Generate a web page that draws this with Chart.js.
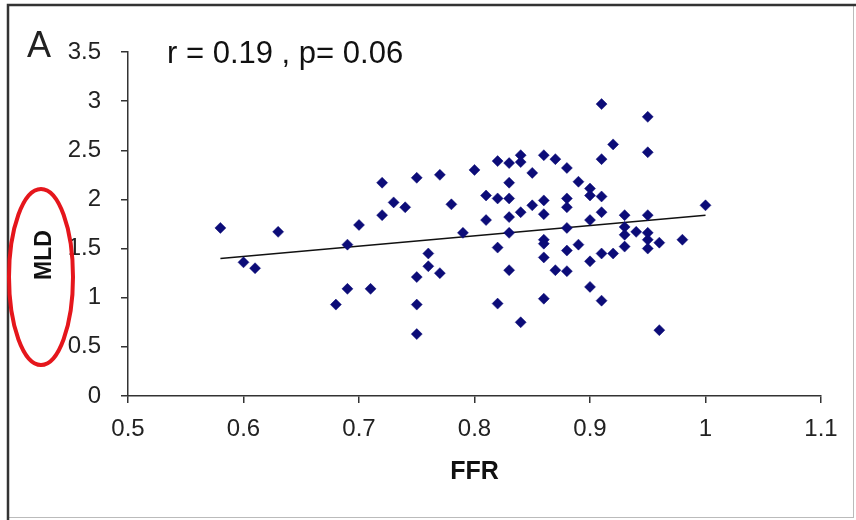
<!DOCTYPE html>
<html>
<head>
<meta charset="utf-8">
<script src="https://cdn.jsdelivr.net/npm/chart.js@4"></script>
<style>
  html, body { margin: 0; padding: 0; background: #fff; }
  #wrap { width: 856px; height: 520px; }
</style>
</head>
<body>
<div id="wrap"><canvas id="scatterChart"></canvas></div>
<script>
// FFR vs MLD per lesion
const ffr = [
    0.58, 0.60, 0.61, 0.63, 0.68, 0.69, 0.69, 0.70, 0.71, 0.72,
    0.72, 0.73, 0.74, 0.75, 0.75, 0.75, 0.75, 0.76, 0.76, 0.77,
    0.77, 0.78, 0.79, 0.80, 0.81, 0.81, 0.82, 0.82, 0.82, 0.82,
    0.83, 0.83, 0.83, 0.83, 0.83, 0.83, 0.84, 0.84, 0.84, 0.84,
    0.85, 0.85, 0.86, 0.86, 0.86, 0.86, 0.86, 0.86, 0.86, 0.87,
    0.87, 0.88, 0.88, 0.88, 0.88, 0.88, 0.88, 0.89, 0.89, 0.90,
    0.90, 0.90, 0.90, 0.90, 0.91, 0.91, 0.91, 0.91, 0.91, 0.91,
    0.92, 0.92, 0.93, 0.93, 0.93, 0.93, 0.94, 0.95, 0.95, 0.95,
    0.95, 0.95, 0.95, 0.96, 0.96, 0.98, 1.00
];
const mld = [
    1.71, 1.36, 1.30, 1.67, 0.93, 1.09, 1.54, 1.74, 1.09, 1.84,
    2.17, 1.97, 1.92, 2.22, 1.21, 0.93, 0.63, 1.45, 1.32, 2.25,
    1.25, 1.95, 1.66, 2.30, 2.04, 1.79, 2.39, 2.01, 1.51, 0.94,
    2.37, 2.17, 2.01, 1.82, 1.66, 1.28, 2.45, 2.38, 1.87, 0.75,
    2.27, 1.94, 2.45, 1.99, 1.85, 1.59, 1.55, 1.41, 0.99, 2.41,
    1.28, 2.32, 2.01, 1.92, 1.71, 1.48, 1.27, 2.18, 1.54, 2.11,
    2.04, 1.79, 1.37, 1.11, 2.97, 2.41, 2.03, 1.87, 1.45, 0.97,
    2.56, 1.45, 1.84, 1.72, 1.64, 1.52, 1.67, 2.84, 2.48, 1.84,
    1.66, 1.59, 1.50, 1.56, 0.67, 1.59, 1.94
];

// linear fit end points
const fitFfr = [0.58, 1.00];
const fitMld = [1.40, 1.84];

const yTicks = [0, 0.5, 1, 1.5, 2, 2.5, 3, 3.5];
const statsText = 'r = 0.19 , p= 0.06';

const tickFont = { family: '"Liberation Sans", Arial, sans-serif', size: 24 };

const decor = {
    id: 'decor',
    beforeDraw(chart) {
        const { ctx, width, height } = chart;
        ctx.save();
        ctx.fillStyle = '#fff';
        ctx.fillRect(0, 0, width, height);
        // frame
        ctx.strokeStyle = '#bbb';
        ctx.lineWidth = 1;
        ctx.strokeRect(8.5, 5.5, 845, 512);
        ctx.strokeStyle = '#333';
        ctx.lineWidth = 2.5;
        ctx.beginPath();
        ctx.moveTo(8, 520);
        ctx.lineTo(8, 5);
        ctx.lineTo(856, 5);
        ctx.stroke();
        ctx.restore();
    },
    afterDraw(chart) {
        const { ctx } = chart;
        ctx.save();
        ctx.fillStyle = '#222';
        ctx.textBaseline = 'alphabetic';
        ctx.textAlign = 'left';
        ctx.font = '36px "Liberation Sans", Arial, sans-serif';
        ctx.fillText('A', 27, 57);
        ctx.fillStyle = '#111';
        ctx.font = '31px "Liberation Sans", Arial, sans-serif';
        ctx.fillText(statsText, 167, 63);

        // y axis title
        ctx.translate(45, 255);
        ctx.rotate(-Math.PI / 2);
        ctx.textAlign = 'center';
        ctx.textBaseline = 'middle';
        ctx.font = 'bold 23px "Liberation Sans", Arial, sans-serif';
        ctx.fillText('MLD', 0, 0);
        ctx.setTransform(1, 0, 0, 1, 0, 0);

        // red ring around the axis title
        ctx.strokeStyle = '#e5161c';
        ctx.lineWidth = 4;
        ctx.beginPath();
        ctx.ellipse(41, 277, 32, 88, 0, 0, Math.PI * 2);
        ctx.stroke();
        ctx.restore();
    }
};

new Chart(document.getElementById('scatterChart'), {
    type: 'scatter',
    data: {
        datasets: [{
            label: 'MLD',
            data: ffr.map((x, i) => ({ x: x, y: mld[i] })),
            pointStyle: 'rectRot',
            pointRadius: 5.5,
            pointHoverRadius: 5.5,
            backgroundColor: '#0c0c78',
            borderColor: '#0c0c78',
            borderWidth: 0.5
        }, {
            type: 'line',
            label: 'fit',
            data: fitFfr.map((x, i) => ({ x: x, y: fitMld[i] })),
            borderColor: '#111',
            borderWidth: 1.5,
            pointRadius: 0,
            fill: false
        }]
    },
    options: {
        responsive: true,
        maintainAspectRatio: false,
        animation: false,
        layout: { padding: { left: 0, top: 52, right: 35, bottom: 0 } },
        plugins: {
            legend: { display: false },
            tooltip: { enabled: false }
        },
        scales: {
            x: {
                type: 'linear',
                min: 0.5,
                max: 1.1,
                afterFit(scale) { scale.height = 124; },
                border: { display: true, color: '#333', width: 1.5 },
                grid: { drawOnChartArea: false, drawTicks: true, tickLength: 7, color: '#333', lineWidth: 1.5 },
                ticks: {
                    stepSize: 0.1,
                    padding: 12,
                    color: '#222',
                    font: tickFont,
                    maxRotation: 0,
                    callback: v => String(Number(v.toFixed(1)))
                },
                title: {
                    display: true,
                    text: 'FFR',
                    color: '#111',
                    font: { family: '"Liberation Sans", Arial, sans-serif', size: 25, weight: 'bold' },
                    padding: { top: 0, bottom: 33 }
                }
            },
            y: {
                type: 'linear',
                min: 0,
                max: 3.5,
                afterFit(scale) { scale.width = 128; },
                afterBuildTicks(scale) { scale.ticks = yTicks.map(v => ({ value: v })); },
                border: { display: true, color: '#333', width: 1.5 },
                grid: { drawOnChartArea: false, drawTicks: true, tickLength: 7, color: '#333', lineWidth: 1.5 },
                ticks: {
                    padding: 20,
                    color: '#222',
                    font: tickFont,
                    callback: v => String(v)
                }
            }
        }
    },
    plugins: [decor]
});
</script>
</body>
</html>
